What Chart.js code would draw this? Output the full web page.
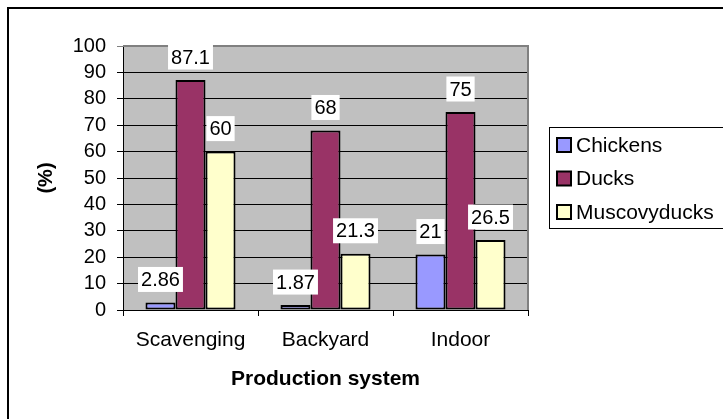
<!DOCTYPE html>
<html>
<head>
<meta charset="utf-8">
<script src="https://cdn.jsdelivr.net/npm/chart.js@4/dist/chart.umd.min.js"></script>
<style>
  html, body { margin: 0; padding: 0; background: #fff; }
  #wrap { width: 723px; height: 419px; position: relative; }
</style>
</head>
<body>
<div id="wrap"><canvas id="c" width="723" height="419"></canvas></div>
<script>
const categories = ['Scavenging', 'Backyard', 'Indoor'];
const seriesNames = ['Chickens', 'Ducks', 'Muscovyducks'];
const chickens = [2.86, 1.87, 21];
const ducks = [87.1, 68, 75];
const muscovyducks = [60, 21.3, 26.5];
const seriesColors = ['#9999FF', '#993366', '#FFFFCC'];
const yMin = 0;
const yMax = 100;
const yStep = 10;
const xTitle = 'Production system';
const yTitle = '(%)';

const FONT = '"Liberation Sans", Arial, sans-serif';

const plotBg = {
  id: 'plotBg',
  beforeDraw(chart) {
    const { ctx, chartArea: a } = chart;
    ctx.save();
    ctx.fillStyle = '#C0C0C0';
    ctx.fillRect(a.left, a.top, a.right - a.left, a.bottom - a.top);
    ctx.restore();
  },
  beforeDatasetsDraw(chart) {
    const { ctx, chartArea: a } = chart;
    ctx.save();
    ctx.strokeStyle = '#808080';
    ctx.lineWidth = 2;
    ctx.beginPath();
    ctx.moveTo(a.left, a.top);
    ctx.lineTo(a.right, a.top);
    ctx.lineTo(a.right, a.bottom);
    ctx.stroke();
    ctx.restore();
  }
};

const valueLabels = {
  id: 'valueLabels',
  afterDatasetsDraw(chart) {
    const { ctx } = chart;
    ctx.save();
    ctx.font = '20px ' + FONT;
    ctx.textAlign = 'center';
    ctx.textBaseline = 'middle';
    chart.data.datasets.forEach((ds, i) => {
      const meta = chart.getDatasetMeta(i);
      meta.data.forEach((bar, j) => {
        const txt = String(ds.data[j]);
        const w = ctx.measureText(txt).width + 6;
        const h = 25;
        const cy = bar.y - 23;
        ctx.fillStyle = '#FFFFFF';
        ctx.fillRect(bar.x - w / 2, cy - h / 2, w, h);
        ctx.fillStyle = '#000000';
        ctx.fillText(txt, bar.x, cy + 1);
      });
    });
    ctx.restore();
  }
};

const boxLegend = {
  id: 'boxLegend',
  afterDraw(chart) {
    const { ctx } = chart;
    ctx.save();
    ctx.strokeStyle = '#000';
    ctx.lineWidth = 2;
    ctx.strokeRect(8, 8, 900, 600);
    const bx = 549.5, by = 127.5, bh = 101;
    ctx.lineWidth = 1;
    ctx.strokeStyle = '#000';
    ctx.fillStyle = '#fff';
    ctx.fillRect(bx, by, 300, bh);
    ctx.strokeRect(bx, by, 300, bh);
    ctx.font = '21px ' + FONT;
    ctx.textBaseline = 'middle';
    ctx.textAlign = 'left';
    chart.data.datasets.forEach((ds, i) => {
      const cy = 145 + i * 33.5;
      ctx.fillStyle = ds.backgroundColor;
      ctx.fillRect(557, cy - 7, 14, 14);
      ctx.lineWidth = 2;
      ctx.strokeStyle = '#000';
      ctx.strokeRect(557, cy - 7, 14, 14);
      ctx.fillStyle = '#000';
      ctx.fillText(ds.label, 576, cy + 1);
    });
    ctx.restore();
  }
};

const datasets = [chickens, ducks, muscovyducks].map((vals, i) => ({
  label: seriesNames[i],
  data: vals,
  backgroundColor: seriesColors[i],
  borderColor: '#000000',
  borderWidth: 2,
  borderSkipped: false,
  categoryPercentage: 0.667,
  barPercentage: 1.0
}));

new Chart(document.getElementById('c'), {
  type: 'bar',
  data: { labels: categories, datasets },
  options: {
    responsive: false,
    animation: false,
    devicePixelRatio: 1,
    layout: { padding: { top: 46, right: 195, left: 0, bottom: 27 } },
    plugins: {
      legend: { display: false },
      tooltip: { enabled: false }
    },
    scales: {
      x: {
        afterFit(s) { s.height = 82; },
        grid: { display: true, drawOnChartArea: false, drawTicks: true, tickLength: 6, color: '#000', lineWidth: 1, offset: true },
        border: { display: true, color: '#000', width: 1 },
        ticks: { color: '#000', font: { family: FONT, size: 21 }, padding: 12, maxRotation: 0 },
        title: { display: true, text: xTitle, color: '#000', font: { family: FONT, size: 21, weight: 'bold' }, padding: { top: 0, bottom: 0 } }
      },
      y: {
        min: yMin, max: yMax,
        afterFit(s) { s.width = 123; },
        grid: {
          color: (c) => (c.tick && c.tick.value === yMax ? '#808080' : '#000'),
          lineWidth: 1, tickLength: 6, drawTicks: true
        },
        border: { display: true, color: '#000', width: 1 },
        ticks: { color: '#000', font: { family: FONT, size: 20 }, padding: 11, stepSize: yStep, autoSkip: false },
        title: { display: true, text: yTitle, color: '#000', font: { family: FONT, size: 20, weight: 'bold' }, padding: { top: 34, bottom: 0 } }
      }
    }
  },
  plugins: [plotBg, valueLabels, boxLegend]
});
</script>
</body>
</html>
